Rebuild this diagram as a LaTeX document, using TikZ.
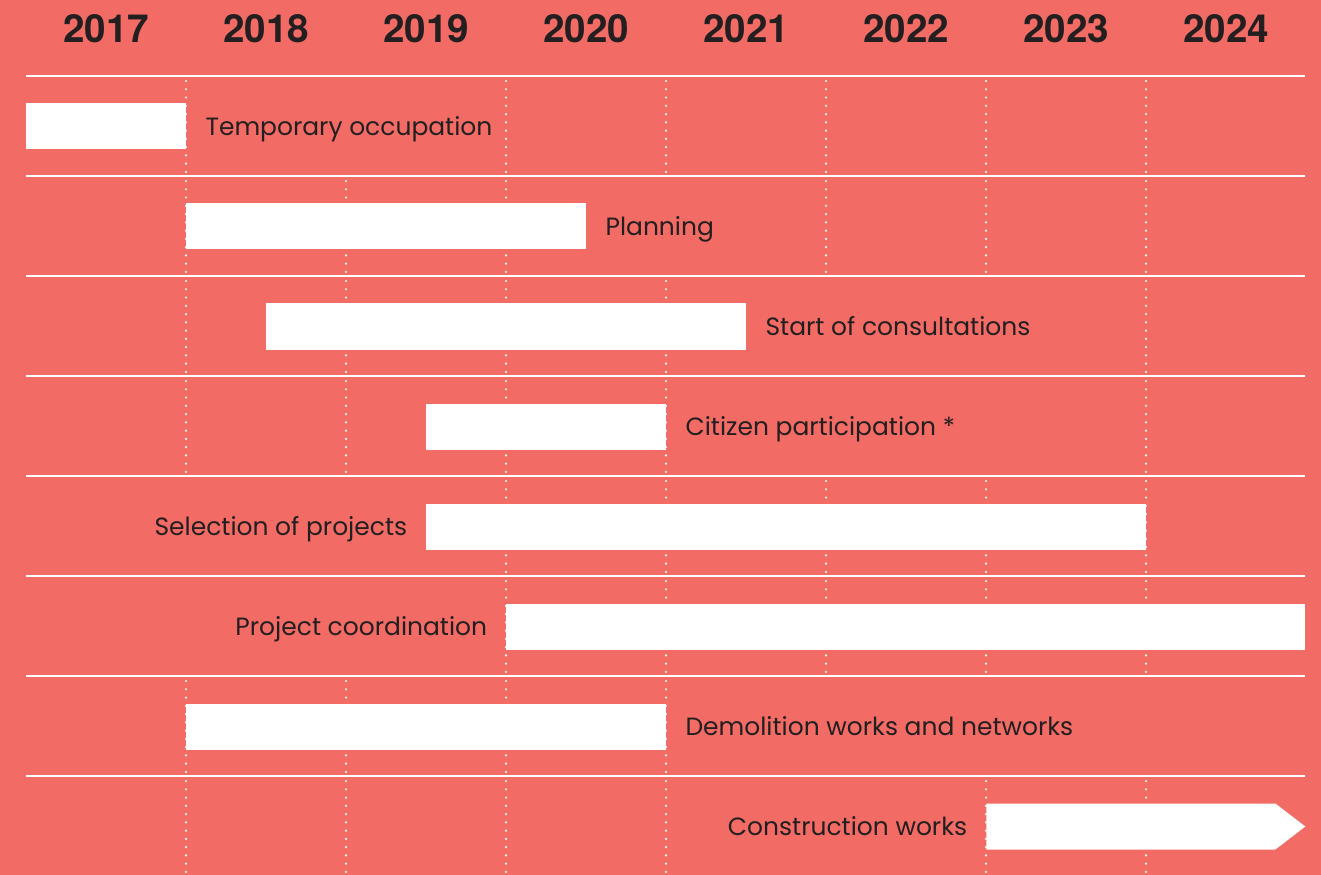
\documentclass[tikz,border=0pt]{standalone}
\usepackage{fontspec}
\setmainfont{Poppins}
\newfontfamily\yearfont{TeX Gyre Heros}
\usepackage{tikz}
\usetikzlibrary{positioning, shapes.symbols}
\definecolor{bgred}{RGB}{242,107,101}
\definecolor{inkdark}{RGB}{35,31,32}
\tikzset{
  bar/.style={rectangle, fill=white, minimum height=0.92cm,
    inner sep=0pt, anchor=west},
  endbar/.style={signal, signal to=east, signal pointer angle=75,
    fill=white, minimum height=0.92cm, inner sep=0pt, anchor=west},
  task/.style={font=\fontsize{14.2}{17}\selectfont, text=inkdark,
    inner sep=0pt, text height=10pt, text depth=0pt},
  year/.style={font=\yearfont\bfseries\fontsize{22}{26}\selectfont,
    text=inkdark, inner sep=0pt, text height=15.9pt, text depth=0pt},
  rowline/.style={white, line width=1.4pt},
  gridline/.style={white, line width=1.4pt, line cap=round,
    dash pattern=on 0pt off 4.7pt}
}

\begin{document}
\begin{tikzpicture}[node distance=0.37cm]
  % Background
  \fill[bgred] (0,0) rectangle (26.42,-17.5);
  \useasboundingbox (0,0) rectangle (26.42,-17.5);

  % Year headers
  \foreach \yr [count=\i from 0] in {2017,2018,2019,2020,2021,2022,2023,2024}
    \node[year] (y\yr) at (2.12+3.2*\i, -0.58) {\yr};

  % Row separators
  \foreach \k in {0,...,7}
    \draw[rowline] (0.52, -1.52-2*\k) -- (26.1, -1.52-2*\k);

  % Dotted year marks, left out behind the labels
  \foreach \row/\cols in {1/{0,2,3,4,5,6}, 2/{0,1,2,4,5,6}, 3/{0,1,2,3,6},
      4/{0,1,2,3,6}, 5/{2,3,4,5,6}, 6/{2,3,4,5,6}, 7/{0,1,2,3}, 8/{0,1,2,3,5,6}}
    \foreach \c in \cols
      \draw[gridline] (3.72+3.2*\c, -1.62-2*\row+2) -- (3.72+3.2*\c, -3.52-2*\row+2);

  % Bars
  \node[bar, minimum width=3.2cm]   (occup)  at (0.52, -2.53)  {};
  \node[bar, minimum width=8.0cm]   (plan)   at (3.72, -4.53)  {};
  \node[bar, minimum width=9.6cm]   (consult) at (5.32, -6.53) {};
  \node[bar, minimum width=4.8cm]   (partic) at (8.52, -8.53)  {};
  \node[bar, minimum width=14.4cm]  (select) at (8.52, -10.53) {};
  \node[bar, minimum width=15.98cm] (coord)  at (10.12, -12.53) {};
  \node[bar, minimum width=9.6cm]   (demol)  at (3.72, -14.53) {};
  \node[endbar, minimum width=6.38cm] (build) at (19.72, -16.53) {};

  % Labels
  \node[task, right=of occup]   (occupL)   {Temporary occupation};
  \node[task, right=of plan]    (planL)    {Planning};
  \node[task, right=of consult] (consultL) {Start of consultations};
  \node[task, right=of partic]  (particL)  {Citizen participation *};
  \node[task, left=of select]   (selectL)  {Selection of projects};
  \node[task, left=of coord]    (coordL)   {Project coordination};
  \node[task, right=of demol]   (demolL)   {Demolition works and networks};
  \node[task, left=of build]    (buildL)   {Construction works};
\end{tikzpicture}
\end{document}
